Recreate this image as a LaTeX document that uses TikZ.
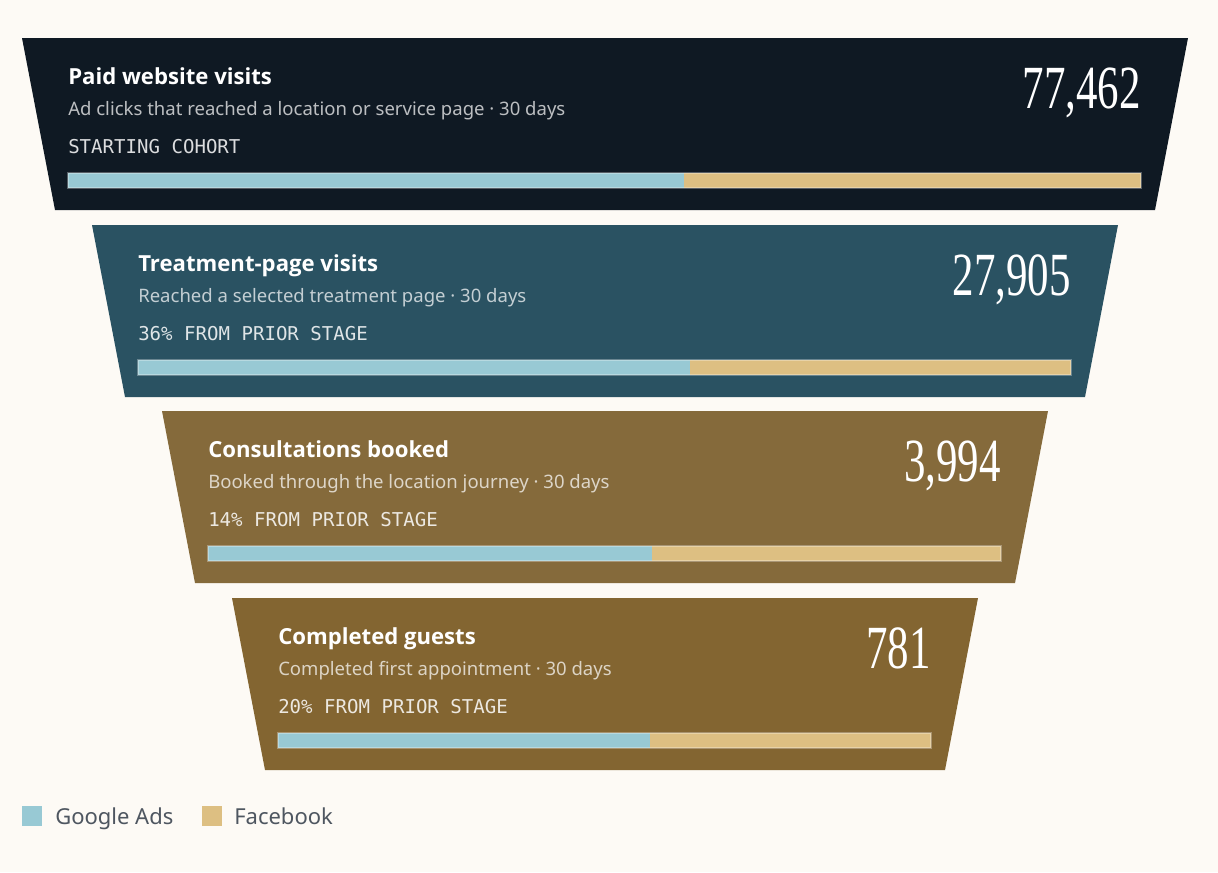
\documentclass[tikz,border=0pt]{standalone}
\usepackage{fontspec}
\setmainfont{Noto Sans}
\newfontfamily\titlefont{Open Sans}
\newfontfamily\monofont{DejaVu Sans Mono}
\newfontfamily\numfont[FakeStretch=0.70]{Liberation Serif}
\definecolor{bgcream}{HTML}{FDFAF5}
\definecolor{stageA}{HTML}{0F1923}
\definecolor{stageB}{HTML}{2A5262}
\definecolor{stageC}{HTML}{856A3B}
\definecolor{stageD}{HTML}{836531}
\definecolor{gblue}{HTML}{98C9D4}
\definecolor{ftan}{HTML}{DDBF82}
\definecolor{legtext}{HTML}{4E5660}
\tikzset{
  titletext/.style={anchor=base west, inner sep=0pt, text=white, font=\titlefont\fontsize{16.6pt}{18pt}\selectfont\bfseries},
  subtext/.style={anchor=base west, inner sep=0pt, text=white, text opacity=0.72, font=\fontsize{13.9pt}{15pt}\selectfont},
  monotext/.style={anchor=base west, inner sep=0pt, text=white, text opacity=0.85, font=\fontsize{14.3pt}{16pt}\monofont},
  numtext/.style={anchor=base east, inner sep=0pt, text=white, font=\fontsize{46pt}{48pt}\numfont},
  barframe/.style={draw=white, draw opacity=0.3, line width=1.5pt},
  legtextstyle/.style={anchor=base west, inner sep=0pt, text=legtext, font=\fontsize{16.5pt}{18pt}\selectfont}
}
\newcommand\funnelstage[9]{%
  \fill[#4] ({22+#2},{38+#3}) -- ({1188-#2},{38+#3}) -- ({1155-#2},{210+#3}) -- ({55+#2},{210+#3}) -- cycle;
  \fill[gblue] ({68+#2},{173+#3}) rectangle ({#9},{188+#3});
  \fill[ftan] ({#9},{173+#3}) rectangle ({1141-#2},{188+#3});
  \draw[barframe] ({68+#2},{173+#3}) rectangle ({1141-#2},{188+#3});
  \node[titletext] (#1title) at ({68+#2},{84+#3}) {#5};
  \node[subtext] (#1sub) at ({68+#2},{115+#3}) {#6};
  \node[monotext] (#1mono) at ({68+#2},{153+#3}) {#7};
  \node[numtext] (#1num) at ({1141-#2},{108+#3}) {#8};
}
\begin{document}
\begin{tikzpicture}[x=0.75pt,y=-0.75pt]
\fill[bgcream] (0,0) rectangle (1218,872);
\useasboundingbox (0,0) rectangle (1218,872);
\funnelstage{s1}{0}{0}{stageA}{Paid website visits}{Ad clicks that reached a location or service page · 30 days}{STARTING COHORT}{77,462}{684}
\funnelstage{s2}{70}{187}{stageB}{Treatment-page visits}{Reached a selected treatment page · 30 days}{36\% FROM PRIOR STAGE}{27,905}{690}
\funnelstage{s3}{140}{373}{stageC}{Consultations booked}{Booked through the location journey · 30 days}{14\% FROM PRIOR STAGE}{3,994}{652}
\funnelstage{s4}{210}{560}{stageD}{Completed guests}{Completed first appointment · 30 days}{20\% FROM PRIOR STAGE}{781}{650}
\fill[gblue] (22,806) rectangle (42,826);
\node[legtextstyle] (leggoogle) at (55,824) {Google Ads};
\fill[ftan] (202,806) rectangle (222,826);
\node[legtextstyle] (legfb) at (234,824) {Facebook};
\end{tikzpicture}
\end{document}
